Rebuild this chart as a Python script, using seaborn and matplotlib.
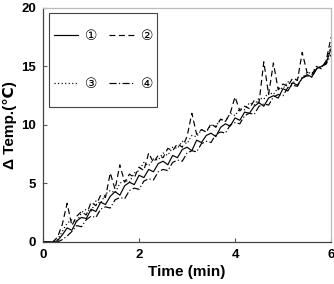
import numpy as np
import pandas as pd
import matplotlib
matplotlib.use('Agg')
import matplotlib.pyplot as plt
from matplotlib.patches import Rectangle
import seaborn as sns

# 数据
time_min = np.round(np.arange(0, 6.01, 0.1), 1)

s1 = [0, 0, 0, 0.1, 0.6, 1.2, 1.0, 1.8, 2.1, 2.0, 2.8, 2.6, 3.4, 3.2, 3.9, 4.3, 4.0, 4.8, 5.1, 4.9,
      5.7, 5.5, 6.2, 6.0, 6.7, 6.9, 6.6, 7.4, 7.2, 7.9, 8.1, 7.8, 8.7, 8.5, 9.1, 9.3, 9.0, 9.8, 10.1, 9.9,
      10.6, 10.4, 11.1, 11.0, 11.6, 11.9, 11.6, 12.3, 12.5, 12.3, 13.1, 12.9, 13.6, 13.4, 14.0, 14.3, 14.1,
      14.8, 15.0, 15.3, 16.5]
s2 = [0, 0, 0, 0.4, 1.5, 3.3, 1.4, 2.2, 2.6, 2.3, 3.4, 3.1, 4.0, 3.8, 5.9, 4.5, 6.6, 5.1, 5.8, 5.5,
      6.4, 6.1, 7.6, 6.8, 7.4, 7.2, 8.0, 7.8, 8.4, 8.1, 9.0, 11.0, 9.2, 9.6, 9.4, 10.1, 9.8, 10.5, 10.3, 11.0,
      12.4, 11.2, 11.6, 11.4, 12.1, 11.9, 15.4, 12.6, 15.3, 13.0, 13.5, 13.3, 14.0, 13.8, 16.2, 14.5, 14.3,
      15.0, 14.8, 15.5, 17.5]
s3 = [0, 0, 0, 0.2, 0.9, 1.6, 1.9, 1.7, 2.5, 2.8, 2.6, 3.5, 3.3, 4.1, 4.4, 4.2, 5.0, 5.3, 5.1, 5.9,
      6.1, 6.8, 6.5, 7.1, 7.0, 7.6, 7.4, 8.1, 8.0, 8.6, 8.4, 9.1, 9.0, 9.6, 9.4, 10.0, 9.9, 10.5, 10.3, 11.0,
      10.8, 11.4, 11.3, 11.9, 11.7, 12.3, 12.2, 12.8, 12.6, 13.2, 13.1, 13.7, 13.5, 14.1, 14.0, 14.5, 14.4,
      15.0, 14.9, 15.5, 16.8]
s4 = [0, 0, 0, 0, 0.2, 0.5, 0.9, 1.4, 1.3, 1.9, 2.2, 2.1, 2.8, 3.0, 2.9, 3.6, 3.8, 3.7, 4.4, 4.6,
      4.5, 5.2, 5.4, 5.3, 6.0, 6.2, 6.1, 6.8, 7.0, 6.9, 7.6, 7.8, 7.7, 8.4, 8.6, 8.5, 9.2, 9.4, 9.3, 10.0,
      10.2, 10.1, 10.8, 11.0, 10.9, 11.6, 11.8, 11.7, 12.4, 12.6, 12.5, 13.2, 13.4, 13.3, 14.0, 14.2, 14.1,
      14.8, 15.0, 15.2, 16.0]

labels = ['①', '②', '③', '④']
styles = ['-', (0, (5, 3)), (0, (1, 2)), (0, (6, 2, 1, 2))]

plt.rcParams['font.family'] = ['Liberation Sans', 'DejaVu Sans', 'Noto Sans CJK SC']
plt.rcParams['font.weight'] = 'bold'

fig = plt.figure(figsize=(3.34, 2.84), dpi=100)
ax = fig.add_axes([0.129, 0.148, 0.862, 0.824])

for y, lab, ls in zip([s1, s2, s3, s4], labels, styles):
    sns.lineplot(x=time_min, y=y, ax=ax, color='black', linewidth=0.85, linestyle=ls, label=lab)

ax.set_xlim(0, 6)
ax.set_ylim(0, 20)
ax.set_xticks([0, 2, 4, 6])
ax.set_yticks([0, 5, 10, 15, 20])
ax.tick_params(direction='in', length=3, width=0.8, labelsize=9.5, colors='#555555', pad=5)
for t in ax.get_xticklabels() + ax.get_yticklabels():
    t.set_fontweight('bold')
    t.set_color('black')

for side in ['left', 'bottom']:
    ax.spines[side].set_color('#444444')
    ax.spines[side].set_linewidth(0.9)
for side in ['top', 'right']:
    ax.spines[side].set_color('#bbbbbb')
    ax.spines[side].set_linewidth(0.9)

ax.set_xlabel('Time (min)', fontsize=11, fontweight='bold', labelpad=3)
ax.set_ylabel('Δ Temp.(℃)', fontsize=11, fontweight='bold', labelpad=3)

# 图例按行排列: ① ② / ③ ④
h, l = ax.get_legend_handles_labels()
order = [0, 2, 1, 3]
leg = ax.legend([h[i] for i in order], [l[i] for i in order], ncol=2, loc='center',
                bbox_to_anchor=(0.21, 0.778), frameon=False,
                prop={'family': ['DejaVu Sans'], 'weight': 'normal', 'size': 10},
                handlelength=1.75, labelspacing=2.45, columnspacing=0.85,
                borderpad=0.2, handletextpad=0.5)
# 图例外框
ax.add_patch(Rectangle((0.021, 0.577), 0.375, 0.402, transform=ax.transAxes,
                       fill=False, edgecolor='#444444', linewidth=0.8, zorder=5))

fig.savefig('out.png', dpi=100)
